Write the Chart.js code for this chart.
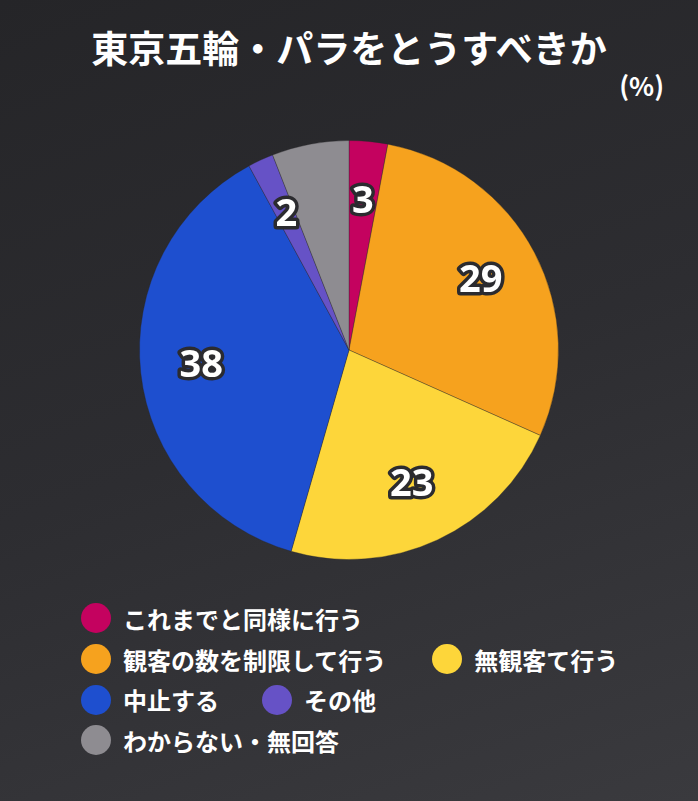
<!DOCTYPE html>
<html>
<head>
<meta charset="utf-8">
<script src="https://cdn.jsdelivr.net/npm/chart.js@4"></script>
<style>
  html, body { margin: 0; padding: 0; }
  body {
    width: 698px; height: 801px; overflow: hidden; position: relative;
    background: linear-gradient(160deg, #252528 0%, #2d2d31 50%, #3a3a3e 100%);
    font-family: "Noto Sans CJK JP", "Noto Sans", sans-serif; color: #fff;
  }
  #title { position: absolute; top: 19px; left: 0; width: 698px; text-align: center;
    font-size: 37px; font-weight: bold; line-height: 56px; }
  #unit { position: absolute; top: 66px; right: 34px; font-size: 26px; font-weight: bold; }
  #wrap { position: absolute; top: 140px; left: 0; width: 698px; height: 420px; }
  #legend { position: absolute; top: 598px; left: 81px; font-size: 24px; font-weight: bold; }
  .row { height: 40.7px; display: flex; align-items: center; }
  .item { display: flex; align-items: center; }
  .dot { width: 30px; height: 30px; border-radius: 50%; margin-right: 12px; }
</style>
</head>
<body>
<div id="title">東京五輪・パラをとうすべきか</div>
<div id="unit">(%)</div>
<div id="wrap"><canvas id="canvas"></canvas></div>
<div id="legend"></div>
<script>
var labels = ['これまでと同様に行う', '観客の数を制限して行う', '無観客て行う', '中止する', 'その他', 'わからない・無回答'];
var values = [3, 29, 23, 38, 2, 6];
var shown = ['3', '29', '23', '38', '2', ''];
var colors = ['#c4025f', '#f6a21e', '#fdd63a', '#1e4fcf', '#6652c6', '#8e8c91'];
var legendRows = [[0], [1, 2], [3, 4], [5]];

// legend
var leg = document.getElementById('legend');
legendRows.forEach(function(r){
  var row = document.createElement('div');
  row.className = 'row';
  r.forEach(function(i){
    var it = document.createElement('div');
    it.className = 'item';
    if (i == 2) it.style.marginLeft = '46px';
    if (i == 4) it.style.marginLeft = '43px';
    it.innerHTML = '<div class="dot" style="background:' + colors[i] + '"></div>' + labels[i];
    row.appendChild(it);
  });
  leg.appendChild(row);
});

var sliceLabels = {
  id: 'sliceLabels',
  afterDatasetsDraw: function(chart){
    var ctx = chart.ctx;
    var meta = chart.getDatasetMeta(0);
    ctx.save();
    ctx.font = 'bold 38px "Noto Sans", "DejaVu Sans", sans-serif';
    ctx.textAlign = 'center';
    ctx.textBaseline = 'middle';
    ctx.lineJoin = 'round';
    meta.data.forEach(function(arc, i){
      if (!shown[i]) return;
      var a = (arc.startAngle + arc.endAngle) / 2;
      var r = arc.outerRadius * 0.71;
      var x = arc.x + Math.cos(a) * r;
      var y = arc.y + Math.sin(a) * r;
      ctx.lineWidth = 7;
      ctx.strokeStyle = '#2b2b2f';
      ctx.strokeText(shown[i], x, y);
      ctx.fillStyle = '#ffffff';
      ctx.fillText(shown[i], x, y);
    });
    ctx.restore();
  }
};

new Chart(document.getElementById('canvas'), {
  type: 'pie',
  data: {
    labels: labels,
    datasets: [{
      data: values,
      backgroundColor: colors,
      borderColor: 'rgba(40,40,44,0.35)',
      borderWidth: 1
    }]
  },
  options: {
    responsive: true,
    maintainAspectRatio: false,
    animation: false,
    layout: { padding: 0 },
    plugins: {
      legend: { display: false },
      tooltip: { enabled: false }
    }
  },
  plugins: [sliceLabels]
});
</script>
</body>
</html>
